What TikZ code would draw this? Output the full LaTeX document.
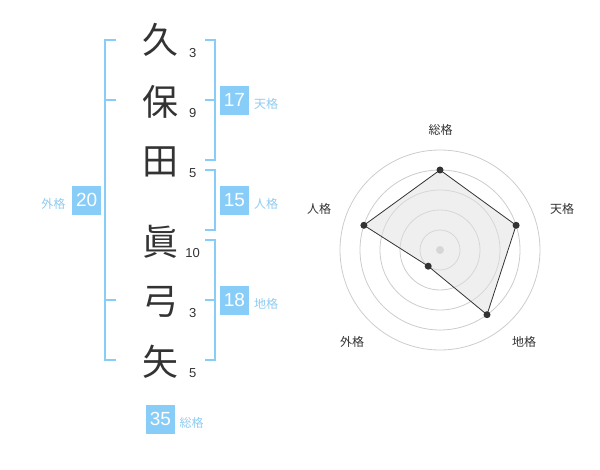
\documentclass[tikz,border=0pt]{standalone}
\usepackage{fontspec}
\setmainfont{Liberation Sans}
\newfontfamily\jpfont{Noto Sans CJK JP}
\usetikzlibrary{positioning}
\definecolor{kakublue}{HTML}{88CDF8}
\definecolor{kakulabel}{HTML}{8FCBF0}
\definecolor{inkgray}{HTML}{333333}
\definecolor{ringgray}{HTML}{CCCCCC}

\tikzset{
  kanji/.style={inner sep=0pt, text=inkgray, font=\jpfont\fontsize{36}{36}\selectfont},
  strokes/.style={inner sep=0pt, text=inkgray, font=\fontsize{13}{13}\selectfont},
  scorebox/.style={rectangle, fill=kakublue, minimum size=28.7pt, inner sep=0pt, text=white, font=\fontsize{19}{19}\selectfont},
  scorelabel/.style={inner sep=0pt, text=kakulabel, font=\jpfont\fontsize{12}{12}\selectfont},
  radarlabel/.style={inner sep=0pt, text=inkgray, font=\jpfont\fontsize{12}{12}\selectfont},
  bracket/.style={draw=kakublue, line width=2pt},
  ring/.style={draw=ringgray, line width=0.8pt},
  radardot/.style={circle, fill=inkgray, minimum size=7pt, inner sep=0pt}
}

\begin{document}
\begin{tikzpicture}[x=1pt,y=-1pt]

\useasboundingbox (0,0) rectangle (600,470);

% Name characters
\draw (160,40) node [kanji] (kyu) {久};
\draw (160,101.7) node [kanji] (ho) {保};
\draw (160,161.7) node [kanji] (den) {田};
\draw (160,241.7) node [kanji] (shin) {眞};
\draw (160,301.7) node [kanji] (kyuu) {弓};
\draw (160,361.7) node [kanji] (ya) {矢};

% Stroke counts
\draw (192.7,52.7) node [strokes] (kyuN) {3};
\draw (192.7,113.3) node [strokes] (hoN) {9};
\draw (192.7,172.7) node [strokes] (denN) {5};
\draw (192.7,252.7) node [strokes] (shinN) {10};
\draw (192.7,313.3) node [strokes] (kyuuN) {3};
\draw (192.7,373.3) node [strokes] (yaN) {5};

% Scores
\draw (234.4,100.3) node [scorebox] (tenBox) {17};
\draw (266,104) node [scorelabel] (tenLabel) {天格};
\draw (234.4,200.3) node [scorebox] (jinBox) {15};
\draw (266,204) node [scorelabel] (jinLabel) {人格};
\draw (234.4,300.3) node [scorebox] (chiBox) {18};
\draw (266,304) node [scorelabel] (chiLabel) {地格};
\draw (86.7,200.3) node [scorebox] (gaiBox) {20};
\draw (53.3,204) node [scorelabel] (gaiLabel) {外格};
\draw (160.5,419.3) node [scorebox] (souBox) {35};
\draw (191.7,422.7) node [scorelabel] (souLabel) {総格};

% Brackets
\coordinate (gaiTop) at (116,40);
\coordinate (gaiUp) at (116,100);
\coordinate (gaiLow) at (116,300);
\coordinate (gaiBot) at (116,360);
\draw [bracket] (gaiTop) -- ++(-10.7,0) |- (gaiBot);
\draw [bracket] (gaiUp) -- ++(-10.7,0);
\draw [bracket] (gaiLow) -- ++(-10.7,0);

\coordinate (tenTop) at (205,40);
\coordinate (tenMid) at (205,100);
\coordinate (tenBot) at (205,160);
\draw [bracket] (tenTop) -- ++(9.7,0) |- (tenBot);
\draw [bracket] (tenMid) -- ++(9.7,0);

\coordinate (jinTop) at (205,170);
\coordinate (jinBot) at (205,230);
\draw [bracket] (jinTop) -- ++(9.7,0) |- (jinBot);

\coordinate (chiTop) at (205,240);
\coordinate (chiMid) at (205,300);
\coordinate (chiBot) at (205,360);
\draw [bracket] (chiTop) -- ++(9.7,0) |- (chiBot);
\draw [bracket] (chiMid) -- ++(9.7,0);

% Radar chart
\draw (440,250) node [circle, fill=ringgray, minimum size=8pt, inner sep=0pt] (hub) {};
\foreach \r in {20,40,60,80,100}
  \draw [ring] (hub.center) circle (\r pt);

\coordinate (souPt) at (440,170);
\coordinate (tenPt) at (516.1,225.3);
\coordinate (chiPt) at (487.0,314.7);
\coordinate (gaiPt) at (428.2,266.2);
\coordinate (jinPt) at (363.9,225.3);
\draw [fill=black!12, fill opacity=0.5, draw=inkgray, line width=0.8pt] (souPt) -- (tenPt) -- (chiPt) -- (gaiPt) -- (jinPt) -- cycle;

\draw (souPt) node [radardot] (souDot) {};
\draw (tenPt) node [radardot] (tenDot) {};
\draw (chiPt) node [radardot] (chiDot) {};
\draw (gaiPt) node [radardot] (gaiDot) {};
\draw (jinPt) node [radardot] (jinDot) {};

\draw (440.7,130) node [radarlabel] (souAxis) {総格};
\draw (562,209) node [radarlabel] (tenAxis) {天格};
\draw (319,209) node [radarlabel] (jinAxis) {人格};
\draw (524,342) node [radarlabel] (chiAxis) {地格};
\draw (352,342) node [radarlabel] (gaiAxis) {外格};

\end{tikzpicture}
\end{document}
